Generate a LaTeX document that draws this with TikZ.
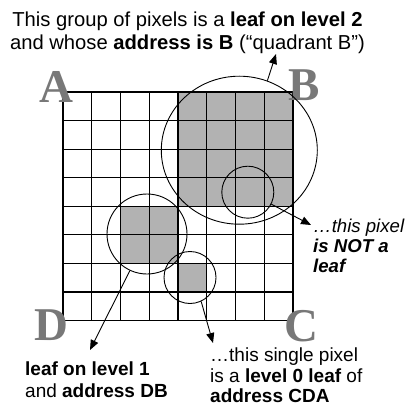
\documentclass[tikz,border=0pt]{standalone}
\usepackage{fontspec}
\setmainfont{Liberation Sans}
\newfontfamily\letterfont{Liberation Serif}
\usepackage{xcolor}
\usetikzlibrary{arrows.meta, shapes.geometric, positioning}

\definecolor{pixelgray}{HTML}{B2B2B2}
\definecolor{lettergray}{HTML}{787878}

\begin{document}
\begin{tikzpicture}[x=1pt, y=1pt]
    % Styles
    \tikzstyle{cornerletter} = [text=lettergray, inner sep=0, anchor=base, font=\letterfont\fontsize{47}{47}\selectfont\bfseries]
    \tikzstyle{ring} = [circle, draw, line width=0.9pt, inner sep=0]
    \tikzstyle{note} = [inner sep=0, align=left, font=\fontsize{19}{20.5}\selectfont]
    \tikzstyle{gridline} = [line width=1.2pt, line cap=rect]
    \tikzstyle{arrow} = [line width=0.9pt, -{Triangle[length=10pt, width=8pt]}]

    \useasboundingbox (0,0) rectangle (405,-406);

    % Pixel grid
    \begin{scope}[shift={(63,-320.5)}, x=28.75pt, y=28.55pt]
        \fill[pixelgray] (4,4) rectangle (8,8);
        \fill[pixelgray] (2,2) rectangle (4,4);
        \fill[pixelgray] (4,1) rectangle (5,2);
        \foreach \i in {0,...,8} {
            \draw[gridline] (\i,0) -- (\i,8);
            \draw[gridline] (0,\i) -- (8,\i);
        }
    \end{scope}

    % Quadrant letters
    \node (qA) [cornerletter] at (56.5,-103) {A};
    \node (qB) [cornerletter] at (304,-101) {B};
    \node (qD) [cornerletter] at (51,-340) {D};
    \node (qC) [cornerletter] at (301,-341) {C};

    % Rings round the leaves
    \node (leafB) [draw, ellipse, line width=0.9pt, inner sep=0, minimum width=156pt, minimum height=148pt] at (239.3,-150.2) {};
    \node (notleafring) [ring, minimum size=52pt] at (247.8,-192.2) {};
    \node (dbring) [ring, minimum size=80pt] at (147,-234) {};
    \node (cdaring) [ring, minimum size=52pt] at (190,-277.5) {};

    % Texts (anchored at the baseline of the last line)
    \node (toptext) [note, align=center, anchor=base, font=\fontsize{20.2}{22.7}\selectfont] at (187.5,-49.5)
        {This group of pixels is a \textbf{leaf on level 2}\\ and whose \textbf{address is B} (“quadrant B”)};
    \node (notleaftext) [note, anchor=base west, font=\fontsize{18.6}{20}\selectfont] at (313,-272)
        {\textit{…this pixel}\\ \textbf{\textit{is NOT a}}\\ \textbf{\textit{leaf}}};
    \node (dbtext) [note, anchor=base west, font=\fontsize{19}{22}\selectfont] at (25,-397)
        {\textbf{leaf on level 1}\\ and \textbf{address DB}};
    \node (cdatext) [note, anchor=base west] at (210,-402.5)
        {…this single pixel\\ is a \textbf{level 0 leaf} of\\ \textbf{address CDA}};

    % Arrow ends
    \coordinate (topend) at (276,-54);
    \coordinate (notleafend) at (311,-225);
    \coordinate (dbend) at (90,-350);
    \coordinate (cdaend) at (213,-343);

    % Arrows
    \draw [arrow] (leafB.68) -- (topend);
    \draw [arrow] (notleafring.-27) -- (notleafend);
    \draw [arrow] (dbring.-115) -- (dbend);
    \draw [arrow] (cdaring.-65) -- (cdaend);

\end{tikzpicture}
\end{document}
